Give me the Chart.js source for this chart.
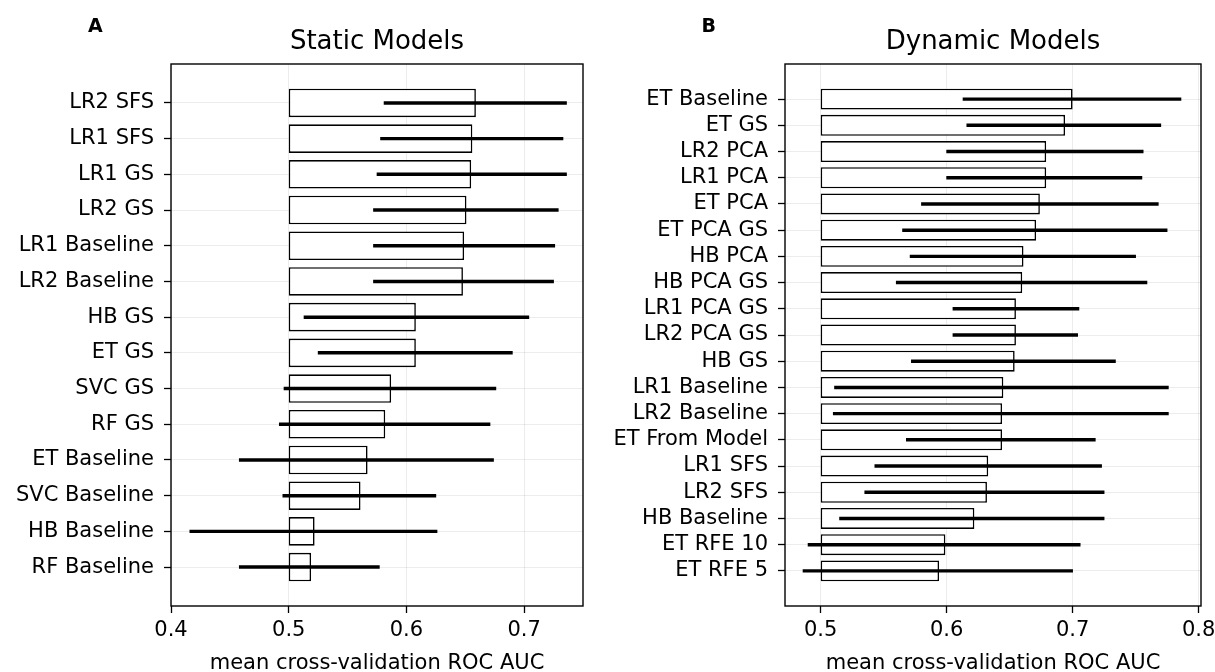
<!DOCTYPE html>
<html>
<head>
<meta charset="utf-8">
<script src="https://cdn.jsdelivr.net/npm/chart.js@4.4.1/dist/chart.umd.min.js"></script>
<style>
html,body{margin:0;padding:0;background:#fff;}
#wrap{position:relative;width:1215px;height:672px;overflow:hidden;}
#wrap canvas{position:absolute;left:0;top:0;}
</style>
</head>
<body>
<div id="wrap">
<canvas id="cStatic" width="1215" height="672"></canvas>
<canvas id="cDynamic" width="1215" height="672"></canvas>
</div>
<script>
// ---------- data ----------
const barBase = 0.5;

const staticModels = ['LR2 SFS','LR1 SFS','LR1 GS','LR2 GS','LR1 Baseline','LR2 Baseline','HB GS','ET GS','SVC GS','RF GS','ET Baseline','SVC Baseline','HB Baseline','RF Baseline'];
const staticMean = [0.659,0.656,0.655,0.651,0.649,0.648,0.608,0.608,0.587,0.582,0.567,0.561,0.522,0.519];
const staticLow  = [0.581,0.578,0.575,0.572,0.572,0.572,0.513,0.525,0.496,0.492,0.458,0.495,0.416,0.458];
const staticHigh = [0.736,0.733,0.736,0.729,0.726,0.725,0.704,0.690,0.676,0.671,0.674,0.625,0.626,0.577];
const staticTicks = [0.4,0.5,0.6,0.7];

const dynamicModels = ['ET Baseline','ET GS','LR2 PCA','LR1 PCA','ET PCA','ET PCA GS','HB PCA','HB PCA GS','LR1 PCA GS','LR2 PCA GS','HB GS','LR1 Baseline','LR2 Baseline','ET From Model','LR1 SFS','LR2 SFS','HB Baseline','ET RFE 10','ET RFE 5'];
const dynamicMean = [0.700,0.694,0.679,0.679,0.674,0.671,0.661,0.660,0.655,0.655,0.654,0.645,0.644,0.644,0.633,0.632,0.622,0.599,0.594];
const dynamicLow  = [0.613,0.616,0.600,0.600,0.580,0.565,0.571,0.560,0.605,0.605,0.572,0.511,0.510,0.568,0.543,0.535,0.515,0.490,0.486];
const dynamicHigh = [0.786,0.770,0.756,0.755,0.768,0.775,0.750,0.759,0.705,0.704,0.734,0.776,0.776,0.718,0.723,0.725,0.725,0.706,0.700];
const dynamicTicks = [0.5,0.6,0.7,0.8];

// ---------- styling ----------
Chart.defaults.font.family = "'DejaVu Sans', sans-serif";
Chart.defaults.color = '#000';

const FONT = "'DejaVu Sans', sans-serif";

const framePlugin = {
  id: 'frame',
  afterDatasetsDraw(chart) {
    const a = chart.chartArea, ctx = chart.ctx;
    ctx.save();
    ctx.strokeStyle = '#000';
    ctx.lineWidth = 1.4;
    ctx.strokeRect(a.left, a.top, a.right - a.left, a.bottom - a.top);
    ctx.restore();
  }
};

const letterPlugin = {
  id: 'panelLetter',
  afterDraw(chart, args, opts) {
    const ctx = chart.ctx;
    ctx.save();
    ctx.font = "bold 19px " + FONT;
    ctx.fillStyle = '#000';
    ctx.textBaseline = 'alphabetic';
    ctx.textAlign = 'left';
    ctx.fillText(opts.text, opts.x, opts.y);
    ctx.restore();
  }
};

function makePanel(id, p) {
  const n = p.labels.length;
  const idx = p.labels.map((_, i) => i);
  const span = (n - 1) + 0.8;
  return new Chart(document.getElementById(id), {
    type: 'bar',
    data: {
      datasets: [
        {
          label: 'range',
          data: idx.map(i => ({ y: i, x: [p.low[i], p.high[i]] })),
          backgroundColor: '#000',
          borderWidth: 0,
          barThickness: 2.8,
          grouped: false,
          order: 0
        },
        {
          label: 'mean',
          data: idx.map(i => ({ y: i, x: [barBase, p.mean[i]] })),
          backgroundColor: '#fff',
          borderColor: '#000',
          borderWidth: 1.6,
          borderSkipped: false,
          barPercentage: 0.8,
          categoryPercentage: 1,
          grouped: false,
          order: 1
        }
      ]
    },
    options: {
      indexAxis: 'y',
      responsive: false,
      animation: false,
      events: [],
      layout: { padding: { left: 0, right: p.padRight, top: 0, bottom: 0 } },
      scales: {
        y: {
          type: 'linear',
          reverse: true,
          offset: false,
          min: -0.4 - 0.05 * span,
          max: (n - 1) + 0.4 + 0.05 * span,
          afterBuildTicks: ax => { ax.ticks = idx.map(i => ({ value: i })); },
          afterFit: s => { s.width = p.yWidth; s.paddingTop = 0; s.paddingBottom = 0; },
          ticks: {
            autoSkip: false,
            padding: 10,
            color: '#000',
            font: { size: 21 },
            callback: v => p.labels[v]
          },
          grid: {
            offset: false,
            color: 'rgba(0,0,0,0.075)',
            lineWidth: 1,
            drawTicks: true,
            tickLength: 7,
            tickColor: '#000',
            tickWidth: 1.3
          },
          border: { display: false }
        },
        x: {
          type: 'linear',
          position: 'bottom',
          min: p.xmin,
          max: p.xmax,
          afterBuildTicks: ax => { ax.ticks = p.ticks.map(v => ({ value: v })); },
          afterFit: s => { s.height = 66; s.paddingLeft = 0; s.paddingRight = 0; },
          ticks: {
            padding: 5,
            color: '#000',
            font: { size: 21 },
            callback: v => Number(v).toFixed(1)
          },
          grid: {
            color: 'rgba(0,0,0,0.075)',
            lineWidth: 1,
            drawTicks: true,
            tickLength: 7,
            tickColor: '#000',
            tickWidth: 1.3
          },
          border: { display: false },
          title: {
            display: true,
            text: 'mean cross-validation ROC AUC',
            color: '#000',
            font: { size: 21, lineHeight: 0.85 },
            padding: { top: 0, bottom: 0 }
          }
        }
      },
      plugins: {
        legend: { display: false },
        tooltip: { enabled: false },
        title: {
          display: true,
          text: p.title,
          fullSize: false,
          color: '#000',
          font: { size: 26, weight: 'normal', lineHeight: 1.2 },
          padding: { top: 26.4, bottom: 6.4 }
        },
        panelLetter: { text: p.letter, x: p.letterX, y: 32 }
      }
    },
    plugins: [framePlugin, letterPlugin]
  });
}

makePanel('cStatic', {
  labels: staticModels, mean: staticMean, low: staticLow, high: staticHigh,
  ticks: staticTicks, xmin: 0.4, xmax: 0.75,
  yWidth: 171, padRight: 1215 - 583,
  title: 'Static Models', letter: 'A', letterX: 88
});

makePanel('cDynamic', {
  labels: dynamicModels, mean: dynamicMean, low: dynamicLow, high: dynamicHigh,
  ticks: dynamicTicks, xmin: 0.4717, xmax: 0.8019,
  yWidth: 785, padRight: 14,
  title: 'Dynamic Models', letter: 'B', letterX: 701.5
});
</script>
</body>
</html>
